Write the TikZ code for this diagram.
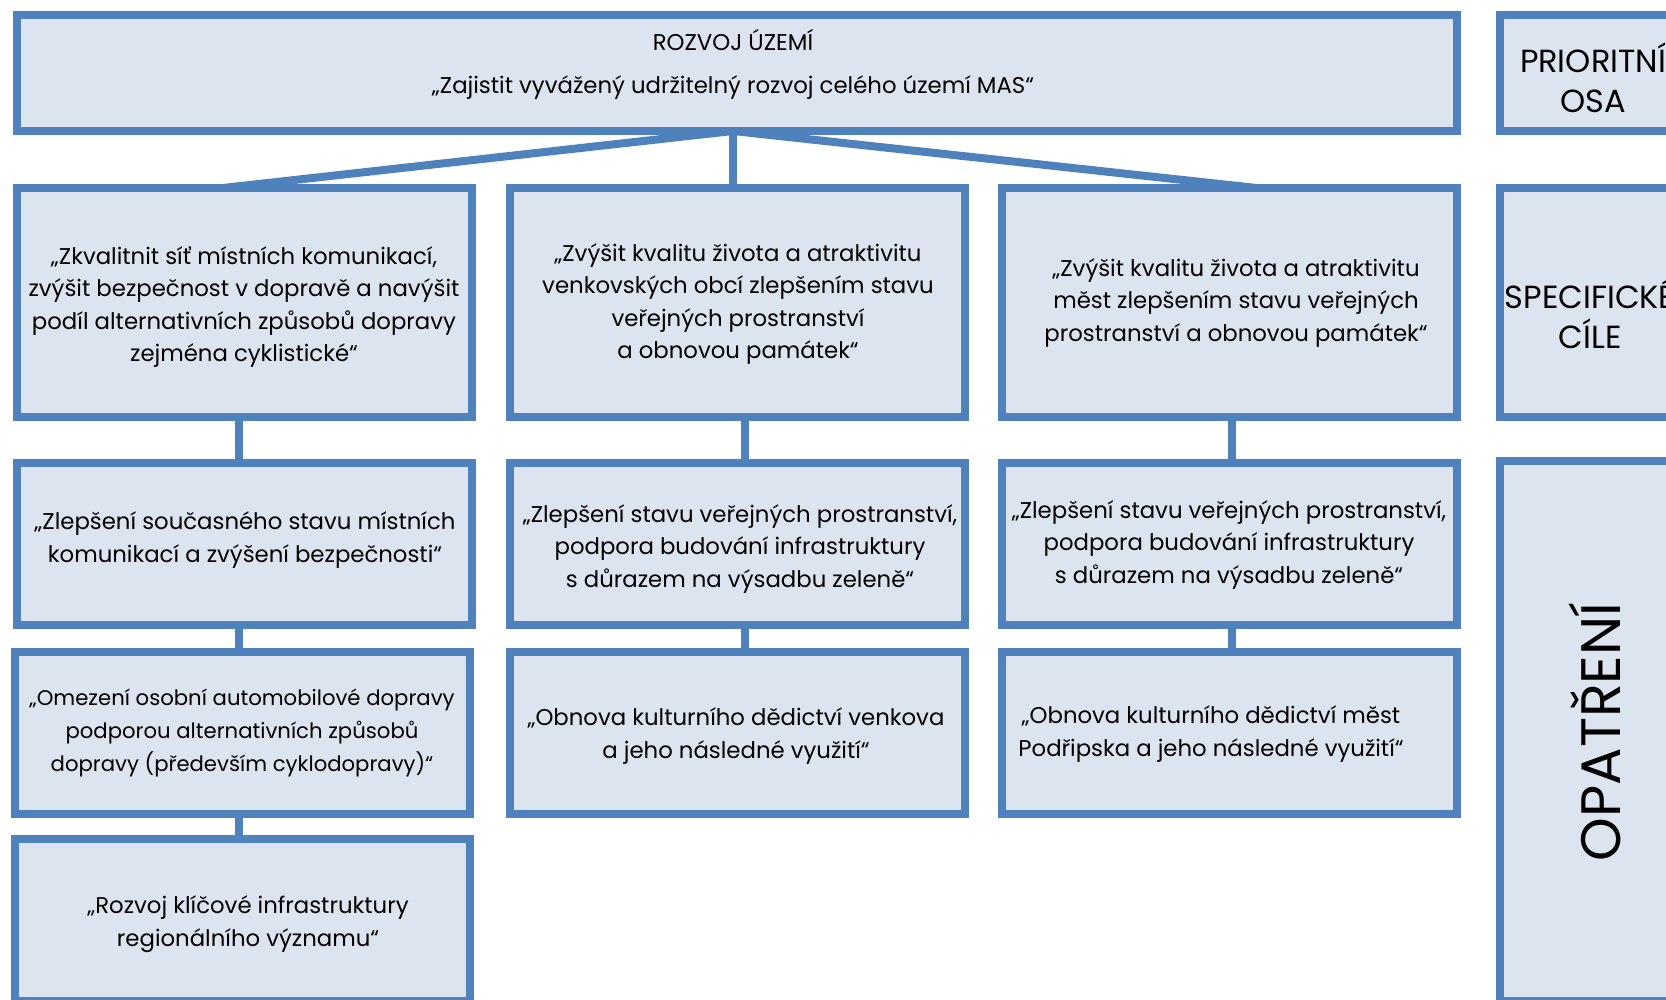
\documentclass[tikz,border=0pt]{standalone}
\usepackage{fontspec}
\setmainfont{Poppins}
\usetikzlibrary{fit,backgrounds,calc}
\definecolor{bord}{HTML}{4F81BD}
\definecolor{fillc}{HTML}{DCE4F0}
\begin{document}
\begin{tikzpicture}[x=0.5pt,y=-0.5pt,
  box/.style={draw=bord, fill=fillc, line width=4pt, inner sep=0pt},
  txt/.style={align=center, font=\fontsize{11.4}{16.3}\selectfont, text=black, inner sep=0pt},
  bigtxt/.style={align=center, font=\fontsize{16}{20}\selectfont, text=black, inner sep=0pt},
  hugetxt/.style={font=\fontsize{27.8}{30}\selectfont, text=black, inner sep=0pt, rotate=90},
  conn/.style={draw=bord, line width=4pt}]
\useasboundingbox (0,0) rectangle (1666,1000);
\clip (0,0) rectangle (1666,1000);

% boxes
\node[box, fit={(17,15)(1457,131)}] (top) {};
\node[box, fit={(1500,15)(1686,131)}] (osa) {};
\node[box, fit={(17,188)(472,417)}] (A2) {};
\node[box, fit={(510,188)(965,417)}] (B2) {};
\node[box, fit={(1002,188)(1457,417)}] (C2) {};
\node[box, fit={(1500,188)(1686,417)}] (cile) {};
\node[box, fit={(17,463)(472,625)}] (A3) {};
\node[box, fit={(510,463)(965,625)}] (B3) {};
\node[box, fit={(1002,463)(1457,625)}] (C3) {};
\node[box, fit={(15,652)(470,814)}] (A4) {};
\node[box, fit={(510,652)(965,814)}] (B4) {};
\node[box, fit={(1002,652)(1457,814)}] (C4) {};
\node[box, fit={(15,839)(470,1001)}] (A5) {};
\node[box, fit={(1500,461)(1686,1001)}] (opat) {};

% connectors
\coordinate (hub) at (733,131);
\begin{scope}[on background layer]
\draw[conn] (hub) -- (205,190);
\draw[conn] (hub) -- (hub |- B2.north);
\draw[conn] (hub) -- (1275,190);
\draw[conn] ([xshift=-2.75pt]A2.south) -- ([xshift=-2.75pt]A3.north);
\draw[conn] ([xshift=-2.75pt]A3.south) -- ([xshift=-1.75pt]A4.north);
\draw[conn] ([xshift=-1.75pt]A4.south) -- ([xshift=-1.75pt]A5.north);
\draw[conn] ([xshift=3.75pt]B2.south) -- ([xshift=3.75pt]B3.north);
\draw[conn] ([xshift=3.75pt]B3.south) -- ([xshift=3.75pt]B4.north);
\draw[conn] ([xshift=1.25pt]C2.south) -- ([xshift=1.25pt]C3.north);
\draw[conn] ([xshift=1.25pt]C3.south) -- ([xshift=1.25pt]C4.north);
\end{scope}

% texts
\node[txt] (t1) at (733,40) {ROZVOJ ÚZEMÍ};
\node[txt] (t2) at (733,88) {„Zajistit vyvážený udržitelný rozvoj celého území MAS“};
\node[bigtxt] (tosa) at (1593,78) {PRIORITNÍ\\OSA};
\node[bigtxt] (tcile) at (1590,314) {SPECIFICKÉ\\CÍLE};
\node[hugetxt] (topat) at (1595,732) {OPATŘENÍ};

\node[txt] (tA2) at (244,307) {„Zkvalitnit síť místních komunikací,\\zvýšit bezpečnost v dopravě a navýšit\\podíl alternativních způsobů dopravy\\zejména cyklistické“};
\node[txt] (tB2) at (738,304) {„Zvýšit kvalitu života a atraktivitu\\venkovských obcí zlepšením stavu\\veřejných prostranství\\a obnovou památek“};
\node[txt] (tC2) at (1236,303) {„Zvýšit kvalitu života a atraktivitu\\měst zlepšením stavu veřejných\\prostranství a obnovou památek“};
\node[txt] (tA3) at (245,540) {„Zlepšení současného stavu místních\\komunikací a zvýšení bezpečnosti“};
\node[txt] (tB3) at (740,549) {„Zlepšení stavu veřejných prostranství,\\podpora budování infrastruktury\\s důrazem na výsadbu zeleně“};
\node[txt] (tC3) at (1229,545) {„Zlepšení stavu veřejných prostranství,\\podpora budování infrastruktury\\s důrazem na výsadbu zeleně“};
\node[txt, font=\fontsize{10.6}{16.3}\selectfont] (tA4) at (242,733) {„Omezení osobní automobilové dopravy\\podporou alternativních způsobů\\dopravy (především cyklodopravy)“};
\node[txt] (tB4) at (736,736) {„Obnova kulturního dědictví venkova\\a jeho následné využití“};
\node[txt] (tC4) at (1211,734) {„Obnova kulturního dědictví měst\\Podřipska a jeho následné využití“};
\node[txt] (tA5) at (248,924) {„Rozvoj klíčové infrastruktury\\regionálního významu“};
\end{tikzpicture}
\end{document}
